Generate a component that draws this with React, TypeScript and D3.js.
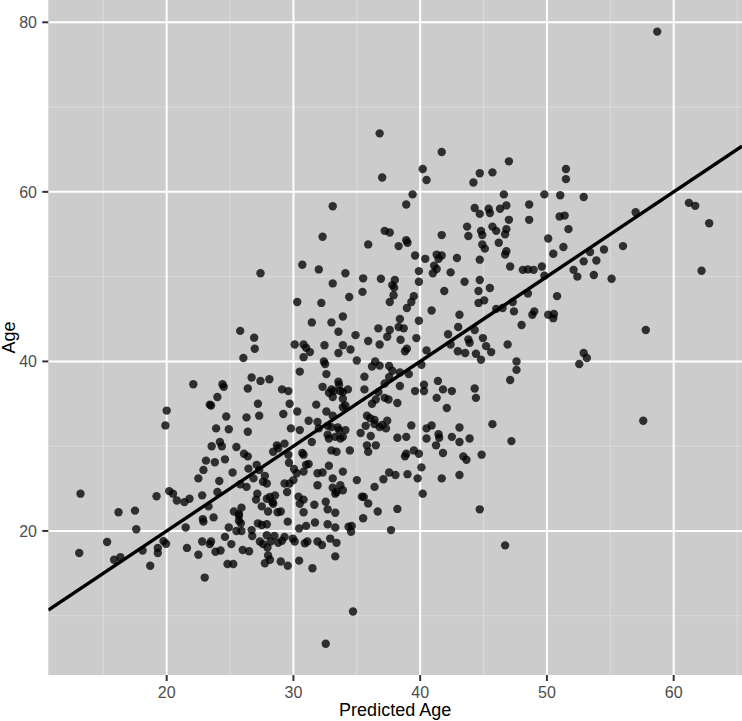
import React from 'react';
import * as d3 from 'd3';

const W = 742;
const H = 721;

const xTicks = [20, 30, 40, 50, 60];
const yTicks = [20, 40, 60, 80];
const xMinor = [15, 25, 35, 45, 55, 65];
const yMinor = [10, 30, 50, 70];
const xDomain: [number, number] = [10.66, 65.39];
const yDomain: [number, number] = [3.01, 82.63];
const xTitle = 'Predicted Age';
const yTitle = 'Age';

// [predicted age, age]
const upperPoints = [
  [36.8,66.9],[41.7,64.7],[40.2,62.7],[37.0,61.7],[40.5,61.4],[44.7,62.2],[44.2,61.1],[45.7,62.3],[39.4,59.7],[38.9,58.5],
  [33.1,58.3],[44.3,58.1],[44.7,57.4],[45.4,58.0],[45.5,57.5],[37.2,55.4],[37.6,55.2],[32.3,54.7],[41.7,54.9],[43.7,55.9],
  [43.8,54.8],[44.8,55.4],[44.9,54.9],[45.7,55.9],[38.9,54.3],
  [58.7,78.9],[47.0,63.6],[51.5,62.7],[51.5,61.5],[46.6,59.7],[49.8,59.7],[51.05,59.6],[52.9,59.4],[46.3,58.0],[46.8,58.4],
  [48.6,58.5],[61.2,58.7],[61.7,58.35],[57.0,57.6],[47.0,56.7],[48.6,56.7],[51.0,57.1],[51.4,57.2],[62.8,56.3],[46.0,55.4],
  [46.8,55.6],[46.7,55.0],[51.7,55.6],[50.1,54.5],
];

const rightPoints = [
  [46.2,54.0],[46.8,53.0],[46.7,52.6],[50.5,52.7],[51.3,53.5],[54.5,53.2],[56.0,53.6],[53.4,52.9],[52.9,51.8],[53.9,51.9],
  [47.1,51.2],[48.1,50.8],[48.5,50.85],[48.95,50.8],[49.6,51.2],[49.8,50.1],[52.1,50.8],[52.4,50.0],[53.7,50.2],[55.1,49.75],
  [62.2,50.7],[48.5,48.0],[50.8,47.7],[46.0,46.2],[46.5,46.3],[47.3,47.0],[47.4,45.9],[48.85,45.5],[49.0,45.9],[50.1,45.5],
  [50.55,45.6],[50.5,45.1],[48.0,44.3],[57.8,43.7],[46.9,42.0],[52.9,41.0],[53.15,40.4],[52.55,39.7],[47.6,40.0],[47.6,39.0],
  [47.1,37.8],[45.7,32.6],[57.6,33.0],[47.2,30.6],
];

const centralPoints = [
  [35.9,53.8],[38.3,53.6],[39.0,54.0],[44.9,53.8],[45.1,53.3],[39.6,52.5],[40.4,52.1],[41.3,52.6],[41.7,52.5],[41.45,52.1],
  [42.9,52.2],[44.7,52.0],[30.7,51.4],[32.0,50.85],[34.1,50.4],[27.4,50.4],[41.1,51.3],[41.3,50.9],[41.0,50.4],[39.9,50.65],
  [42.4,50.5],[44.7,49.6],[45.5,48.65],[43.5,49.4],[44.6,48.3],[45.05,47.2],[44.6,46.9],[41.9,48.3],[35.5,49.8],[36.9,49.75],
  [38.0,49.6],[37.8,49.0],[37.95,48.7],[39.9,49.4],[33.1,49.2],[35.45,48.2],[34.4,47.6],[37.9,47.8],[37.6,47.0],[39.5,47.7],
  [39.3,47.0],[38.95,46.3],[30.3,47.0],[32.2,46.9],[40.9,46.0],[43.1,45.5],[31.45,44.6],[33.0,44.6],[33.9,45.3],[38.4,45.0],
  [39.9,44.8],[43.0,44.05],[44.3,43.7],[33.55,43.5],[34.9,43.1],[36.7,43.9],[37.6,43.7],[38.3,44.05],[38.7,43.9],[38.45,42.55],
  [37.4,42.9],[39.7,42.75],[35.9,42.4],[36.8,42.0],[32.45,41.9],[33.9,41.9],[34.5,41.4],[33.55,41.0],[30.1,42.0],[30.8,42.0],
  [31.0,41.6],[31.3,41.1],[30.8,40.5],[26.9,42.8],[26.95,41.5],[38.95,41.5],[38.8,41.2],[40.5,41.3],[42.2,43.2],[42.4,42.0],
  [43.8,42.6],[43.9,42.2],[44.95,42.75],[45.2,41.8],[45.6,41.1],[44.8,40.2],[44.4,40.9],[43.55,41.0],[42.97,41.2],[35.0,40.1],
  [32.4,40.0],[32.5,39.7],[36.45,40.0],[36.2,39.4],[36.8,39.5],[37.55,39.45],[37.8,38.9],[38.4,38.7],[39.1,38.5],[40.1,39.6],
  [30.5,38.8],[32.6,38.5],[26.7,38.1],[27.4,37.7],[28.1,37.9],[35.6,38.2],[37.55,38.15],[33.55,37.6],[33.6,37.25],[41.4,37.7],
  [40.3,37.25],[38.4,37.1],[37.2,37.4],[26.4,36.8],[29.1,36.7],[29.6,36.5],[32.3,37.0],[33.0,36.7],[33.2,36.5],[33.7,36.5],
  [33.9,36.4],[34.3,36.7],[32.8,36.3],[33.1,35.8],[33.9,35.6],[34.1,34.8],[33.9,34.6],[35.6,36.7],[36.7,36.4],[37.2,35.7],
  [37.5,35.5],[36.2,35.0],[36.5,35.5],[38.2,35.1],[39.6,36.5],[40.3,36.5],[41.3,35.7],[41.8,36.7],[42.5,36.5],[42.1,34.5],
  [44.3,36.8],[44.4,35.7],[27.2,35.0],[27.3,33.6],[26.3,33.4],[29.2,33.8],[29.7,35.0],[30.3,34.1],[31.8,34.9],[32.6,34.1],
  [33.1,33.6],[31.2,33.0],[31.9,32.85],[32.0,32.1],[29.8,32.1],[30.5,31.9],[32.7,32.4],[33.0,32.25],[33.5,32.2],[33.6,31.9],
  [34.1,31.9],[32.7,31.35],[32.8,30.9],[33.3,31.1],[33.7,30.9],[33.9,31.1],[35.8,33.6],[36.05,33.3],[36.4,33.1],[36.4,32.6],
  [35.7,32.4],[35.3,31.55],[36.1,31.2],[37.0,32.5],[36.8,32.25],[37.4,33.0],[37.3,32.1],[38.2,31.0],[38.9,31.1],[39.3,32.45],
  [40.5,32.1],[40.9,32.45],[41.45,31.4],[41.5,31.0],[40.5,30.9],[42.5,31.1],[43.1,32.2],[43.9,30.9],[26.4,31.7],
];

const leftPoints = [
  [25.8,43.6],[26.05,40.4],[22.1,37.3],[24.4,37.3],[24.5,37.0],[24.0,35.8],[23.4,34.9],[23.5,34.8],[20.0,34.2],[19.9,32.45],
  [24.7,33.5],[23.9,32.1],[24.9,32.0],
];

const bandPoints = [
  [19.2,24.1],[20.2,24.7],[20.5,24.4],[20.8,23.6],[21.4,23.4],[21.8,23.8],[22.5,26.2],[22.8,24.2],[22.9,27.2],[23.1,28.3],
  [23.8,28.1],[23.55,30.0],[24.2,30.5],[24.35,30.0],[24.6,28.45],[24.15,25.9],[24.0,24.6],[23.3,22.9],[25.2,26.9],[25.5,29.9],
  [26.1,29.1],[26.4,28.8],[26.45,27.35],[25.8,25.5],[26.3,25.2],[25.3,22.3],[25.7,22.0],[25.9,22.75],[27.1,27.8],[27.3,27.2],
  [26.85,26.2],[27.75,26.5],[27.6,25.8],[27.9,25.6],[27.15,24.4],[27.05,23.7],[27.5,22.9],[27.9,23.8],[28.15,24.0],[28.35,23.4],
  [28.4,23.2],[28.55,24.2],[28.0,22.3],[28.75,22.2],[29.0,22.3],[28.7,30.1],[28.8,29.75],[28.4,29.35],[29.3,30.3],[29.6,29.0],
  [29.65,28.05],[30.05,27.3],[30.25,26.8],[30.0,26.0],[29.7,25.6],[29.3,25.6],[29.5,24.6],[30.7,29.2],[30.8,29.0],[31.0,27.8],
  [30.8,27.0],[30.4,24.05],[30.8,23.7],[30.5,23.2],[30.8,22.2],[31.45,30.5],[31.2,27.9],[31.65,23.1],[31.9,26.8],[32.3,26.9],
  [32.8,27.7],[33.1,26.2],[33.1,25.1],[33.3,24.4],[33.4,24.6],[33.7,25.4],[33.9,24.8],[33.9,27.0],[32.55,23.45],[32.7,22.55],
  [33.3,22.15],[33.0,29.5],[33.4,29.35],[34.45,29.5],[35.8,30.1],[35.9,29.35],[36.5,30.1],[35.0,26.0],[35.4,24.05],[35.55,24.0],
  [35.9,23.25],[36.4,25.2],[36.65,22.3],[37.1,26.1],[37.55,26.9],[38.05,26.6],[38.2,22.6],[38.8,28.8],[38.9,29.1],[39.0,26.7],
  [39.5,29.5],[39.9,29.1],[39.8,26.2],[40.1,27.5],[40.2,24.4],[41.25,30.1],[41.8,29.2],[41.7,26.2],[43.1,26.6],[43.1,30.5],
  [43.4,28.8],[43.65,28.4],[44.85,29.0],[44.7,22.55],[31.9,25.4],
];

const lowerLeftPoints = [
  [13.2,24.4],[13.1,17.4],[15.3,18.7],[15.85,16.6],[16.35,16.9],[16.2,22.2],[17.5,22.4],[17.6,20.2],[18.1,17.7],[18.7,15.9],
  [19.3,18.0],[19.3,17.4],[19.75,18.8],[19.95,18.5],[21.5,20.4],[21.6,18.0],[22.85,21.4],[22.9,21.1],[23.7,21.6],[22.8,18.75],
  [23.5,18.75],[23.4,18.45],[22.5,17.2],[23.85,17.55],[24.25,17.7],[23.0,14.5],[24.6,19.3],[25.1,18.45],[24.8,16.1],[25.25,16.1],
  [24.9,20.4],[25.7,21.8],[25.85,20.9],[25.7,21.2],[25.5,20.0],[25.9,20.0],[26.0,17.75],
];

const lowerPoints = [
  [26.5,17.6],[26.7,20.1],[26.75,19.4],[27.2,20.9],[27.5,20.7],[27.9,20.8],[27.35,18.75],[27.6,18.45],[27.95,18.05],[27.9,19.5],
  [28.5,19.4],[28.2,18.75],[28.8,18.6],[29.1,18.85],[29.3,19.3],[29.55,21.1],[29.95,19.1],[30.1,18.75],[28.0,17.1],[27.75,16.2],
  [28.15,16.6],[29.0,16.4],[29.55,15.9],[30.45,16.5],[30.45,20.3],[31.0,20.6],[31.7,21.0],[30.9,18.55],[31.1,18.75],[31.9,18.75],
  [32.25,18.35],[32.7,20.8],[33.3,20.4],[32.9,19.1],[33.4,18.6],[33.3,17.0],[31.5,15.6],[34.35,20.5],[34.6,20.6],[34.55,19.9],
  [35.5,21.5],[37.7,20.1],[34.7,10.5],[32.55,6.7],[46.7,18.3],
];

export default function App() {
  const left = 48.3;
  const right = 742;
  const top = 0;
  const bottom = 675;
  const x = d3.scaleLinear().domain(xDomain).range([left, right]);
  const y = d3.scaleLinear().domain(yDomain).range([bottom, top]);

  const points = [
    ...upperPoints, ...rightPoints, ...centralPoints, ...leftPoints,
    ...bandPoints, ...lowerLeftPoints, ...lowerPoints,
  ];

  // identity reference line y = x
  const lineData: [number, number][] = [[xDomain[0], xDomain[0]], [xDomain[1], xDomain[1]]];
  const linePath = d3.line<[number, number]>().x(d => x(d[0])).y(d => y(d[1]))(lineData) || '';

  const font = '"Liberation Sans", Arial, Helvetica, sans-serif';

  return (
    <svg width={W} height={H} style={{ position: 'absolute', left: 0, top: 0, background: '#fff' }}>
      <defs>
        <clipPath id="panel">
          <rect x={left} y={top} width={right - left} height={bottom - top} />
        </clipPath>
      </defs>
      <rect x={left} y={top} width={right - left} height={bottom - top} fill="#CCCCCC" />
      <g clipPath="url(#panel)">
        {xMinor.map(v => (
          <line key={'xm' + v} x1={x(v)} x2={x(v)} y1={top} y2={bottom} stroke="#DCDCDC" strokeWidth={0.9} />
        ))}
        {yMinor.map(v => (
          <line key={'ym' + v} x1={left} x2={right} y1={y(v)} y2={y(v)} stroke="#DCDCDC" strokeWidth={0.9} />
        ))}
        {xTicks.map(v => (
          <line key={'xg' + v} x1={x(v)} x2={x(v)} y1={top} y2={bottom} stroke="#FFFFFF" strokeWidth={2} />
        ))}
        {yTicks.map(v => (
          <line key={'yg' + v} x1={left} x2={right} y1={y(v)} y2={y(v)} stroke="#FFFFFF" strokeWidth={2} />
        ))}
        {points.map((p, i) => (
          <circle key={i} cx={x(p[0])} cy={y(p[1])} r={4.2} fill="#000" fillOpacity={0.77} />
        ))}
        <path d={linePath} stroke="#000" strokeWidth={3.4} fill="none" />
      </g>
      {yTicks.map(v => (
        <g key={'yt' + v}>
          <line x1={left - 6} x2={left} y1={y(v)} y2={y(v)} stroke="#333" strokeWidth={2} />
          <text x={37} y={y(v)} dy="0.36em" textAnchor="end" fontFamily={font} fontSize={16} fill="#4D4D4D">{v}</text>
        </g>
      ))}
      {xTicks.map(v => (
        <g key={'xt' + v}>
          <line x1={x(v)} x2={x(v)} y1={bottom} y2={bottom + 6} stroke="#333" strokeWidth={2} />
          <text x={x(v)} y={697.5} textAnchor="middle" fontFamily={font} fontSize={16} fill="#4D4D4D">{v}</text>
        </g>
      ))}
      <text x={(left + right) / 2} y={716} textAnchor="middle" fontFamily={font} fontSize={18} fill="#000">{xTitle}</text>
      <text transform={`translate(14.5, ${(top + bottom) / 2}) rotate(-90)`} textAnchor="middle" fontFamily={font} fontSize={18} fill="#000">{yTitle}</text>
    </svg>
  );
}
